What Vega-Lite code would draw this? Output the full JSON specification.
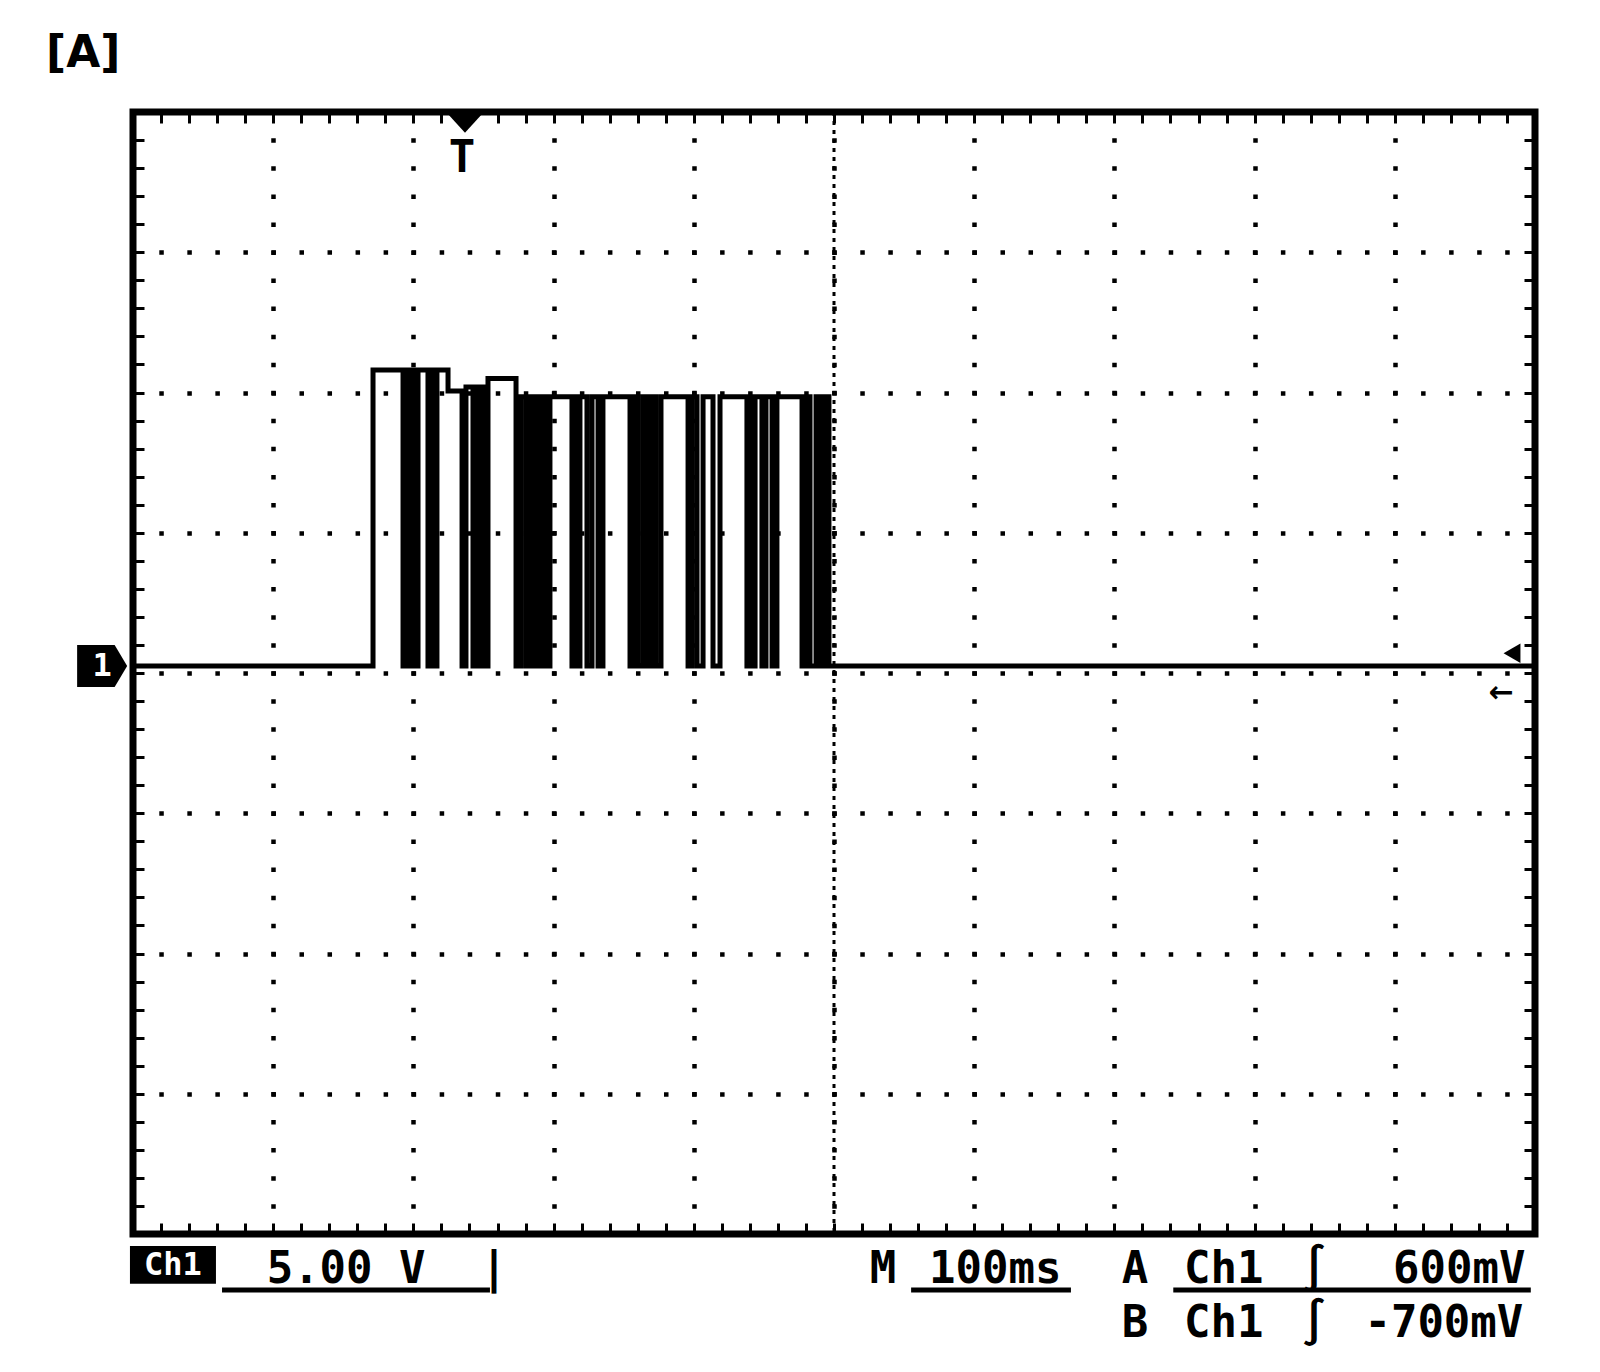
{
  "$schema": "https://vega.github.io/schema/vega-lite/v6.json",
  "width": 1402,
  "height": 1122,
  "autosize": {"type": "none"},
  "padding": {"left": 133, "top": 112, "right": 65, "bottom": 138},
  "background": "white",
  "config": {"view": {"stroke": "black", "strokeWidth": 7}},
  "datasets": {
    "signal": [
      {"t": 0, "v": 0.25}, {"t": 171.2, "v": 0.25}, {"t": 171.2, "v": 10.8}, {"t": 192.6, "v": 10.8},
      {"t": 192.6, "v": 0.25}, {"t": 194.7, "v": 0.25}, {"t": 194.7, "v": 10.8}, {"t": 197.6, "v": 10.8},
      {"t": 197.6, "v": 0.25}, {"t": 199.7, "v": 0.25}, {"t": 199.7, "v": 10.8}, {"t": 201.9, "v": 10.8},
      {"t": 201.9, "v": 0.25}, {"t": 203.3, "v": 0.25}, {"t": 203.3, "v": 10.8}, {"t": 210.4, "v": 10.8},
      {"t": 210.4, "v": 0.25}, {"t": 212.6, "v": 0.25}, {"t": 212.6, "v": 10.8}, {"t": 214.7, "v": 10.8},
      {"t": 214.7, "v": 0.25}, {"t": 216.8, "v": 0.25}, {"t": 216.8, "v": 10.8}, {"t": 224.7, "v": 10.8},
      {"t": 224.7, "v": 10.05}, {"t": 234.7, "v": 10.05}, {"t": 234.7, "v": 0.25}, {"t": 237.5, "v": 0.25},
      {"t": 237.5, "v": 10.2}, {"t": 242.5, "v": 10.2}, {"t": 242.5, "v": 0.25}, {"t": 245.4, "v": 0.25},
      {"t": 245.4, "v": 10.2}, {"t": 246.8, "v": 10.2}, {"t": 246.8, "v": 0.25}, {"t": 248.9, "v": 0.25},
      {"t": 248.9, "v": 10.2}, {"t": 251.1, "v": 10.2}, {"t": 251.1, "v": 0.25}, {"t": 253.2, "v": 0.25},
      {"t": 253.2, "v": 10.5}, {"t": 273.2, "v": 10.5}, {"t": 273.2, "v": 0.25}, {"t": 276.7, "v": 0.25},
      {"t": 276.7, "v": 9.85}, {"t": 280.3, "v": 9.85}, {"t": 280.3, "v": 0.25}, {"t": 283.2, "v": 0.25},
      {"t": 283.2, "v": 9.85}, {"t": 285.3, "v": 9.85}, {"t": 285.3, "v": 0.25}, {"t": 288.2, "v": 0.25},
      {"t": 288.2, "v": 9.85}, {"t": 291.7, "v": 9.85}, {"t": 291.7, "v": 0.25}, {"t": 293.9, "v": 0.25},
      {"t": 293.9, "v": 9.85}, {"t": 295.3, "v": 9.85}, {"t": 295.3, "v": 0.25}, {"t": 297.4, "v": 0.25},
      {"t": 297.4, "v": 9.85}, {"t": 313.1, "v": 9.85}, {"t": 313.1, "v": 0.25}, {"t": 316.0, "v": 0.25},
      {"t": 316.0, "v": 9.85}, {"t": 316.7, "v": 9.85}, {"t": 316.7, "v": 0.25}, {"t": 318.8, "v": 0.25},
      {"t": 318.8, "v": 9.85}, {"t": 323.8, "v": 9.85}, {"t": 323.8, "v": 0.25}, {"t": 327.4, "v": 0.25},
      {"t": 327.4, "v": 9.85}, {"t": 331.7, "v": 9.85}, {"t": 331.7, "v": 0.25}, {"t": 335.2, "v": 0.25},
      {"t": 335.2, "v": 9.85}, {"t": 354.5, "v": 9.85}, {"t": 354.5, "v": 0.25}, {"t": 357.3, "v": 0.25},
      {"t": 357.3, "v": 9.85}, {"t": 360.2, "v": 9.85}, {"t": 360.2, "v": 0.25}, {"t": 363.8, "v": 0.25},
      {"t": 363.8, "v": 9.85}, {"t": 367.3, "v": 9.85}, {"t": 367.3, "v": 0.25}, {"t": 370.2, "v": 0.25},
      {"t": 370.2, "v": 9.85}, {"t": 373.0, "v": 9.85}, {"t": 373.0, "v": 0.25}, {"t": 376.6, "v": 0.25},
      {"t": 376.6, "v": 9.85}, {"t": 395.9, "v": 9.85}, {"t": 395.9, "v": 0.25}, {"t": 398.7, "v": 0.25},
      {"t": 398.7, "v": 9.85}, {"t": 402.3, "v": 9.85}, {"t": 402.3, "v": 0.25}, {"t": 406.6, "v": 0.25},
      {"t": 406.6, "v": 9.85}, {"t": 413.7, "v": 9.85}, {"t": 413.7, "v": 0.25}, {"t": 418.7, "v": 0.25},
      {"t": 418.7, "v": 9.85}, {"t": 437.9, "v": 9.85}, {"t": 437.9, "v": 0.25}, {"t": 440.8, "v": 0.25},
      {"t": 440.8, "v": 9.85}, {"t": 441.5, "v": 9.85}, {"t": 441.5, "v": 0.25}, {"t": 443.7, "v": 0.25},
      {"t": 443.7, "v": 9.85}, {"t": 448.6, "v": 9.85}, {"t": 448.6, "v": 0.25}, {"t": 451.5, "v": 0.25},
      {"t": 451.5, "v": 9.85}, {"t": 455.8, "v": 9.85}, {"t": 455.8, "v": 0.25}, {"t": 459.3, "v": 0.25},
      {"t": 459.3, "v": 9.85}, {"t": 477.2, "v": 9.85}, {"t": 477.2, "v": 0.25}, {"t": 480.0, "v": 0.25},
      {"t": 480.0, "v": 9.85}, {"t": 482.9, "v": 9.85}, {"t": 482.9, "v": 0.25}, {"t": 487.2, "v": 0.25},
      {"t": 487.2, "v": 9.85}, {"t": 490.0, "v": 9.85}, {"t": 490.0, "v": 0.25}, {"t": 492.9, "v": 0.25},
      {"t": 492.9, "v": 9.85}, {"t": 496.4, "v": 9.85}, {"t": 496.4, "v": 0.25}, {"t": 1000, "v": 0.25}
    ],
    "center": [{"t": 500}],
    "underlines": [
      {"t": 63.5, "t2": 254.6, "v": -22.0},
      {"t": 555, "t2": 669, "v": -22.0},
      {"t": 742, "t2": 997, "v": -22.0}
    ],
    "labels": [
      {"t": -62, "v": 21.6, "text": "[A]", "role": "title"},
      {"t": 152, "v": -21.75, "text": "5.00 V", "role": "status"},
      {"t": 257.5, "v": -21.75, "text": "|", "role": "status"},
      {"t": 535, "v": -21.75, "text": "M", "role": "status"},
      {"t": 615, "v": -21.75, "text": "100ms", "role": "status"},
      {"t": 714.7, "v": -21.75, "text": "A", "role": "status"},
      {"t": 778, "v": -21.75, "text": "Ch1", "role": "status"},
      {"t": 842.4, "v": -21.75, "text": "∫", "role": "status"},
      {"t": 946, "v": -21.75, "text": "600mV", "role": "status"},
      {"t": 714.7, "v": -23.67, "text": "B", "role": "status"},
      {"t": 778, "v": -23.67, "text": "Ch1", "role": "status"},
      {"t": 842.4, "v": -23.67, "text": "∫", "role": "status"},
      {"t": 935, "v": -23.67, "text": "-700mV", "role": "status"},
      {"t": 234.7, "v": 17.86, "text": "T", "role": "status"},
      {"t": 28.5, "v": -21.1, "text": "Ch1", "role": "inverse"},
      {"t": -22, "v": 0.25, "text": "1", "role": "inverse"},
      {"t": 976, "v": -0.7, "text": "←", "role": "small"}
    ],
    "markers": [
      {"t": -22, "v": 0.25, "item": "ground"},
      {"t": 28.5, "v": -21.1, "item": "box"},
      {"t": 236.8, "v": 19.6, "item": "trigger"},
      {"t": 983.6, "v": 0.7, "item": "levelA"}
    ]
  },
  "resolve": {"axis": {"x": "independent", "y": "independent"}},
  "layer": [
    {
      "data": {"name": "signal"},
      "mark": {"type": "line", "color": "black", "strokeWidth": 5},
      "encoding": {
        "x": {"field": "t", "type": "quantitative", "scale": {"domain": [0, 1000], "nice": false, "zero": false},
          "axis": {"orient": "bottom", "values": [100, 200, 300, 400, 500, 600, 700, 800, 900], "grid": true, "gridColor": "black", "gridOpacity": 1, "gridWidth": 4.5, "gridDash": [4.5, 23.55], "gridDashOffset": 2.25, "ticks": false, "labels": false, "domain": false, "title": null}},
        "y": {"field": "v", "type": "quantitative", "scale": {"domain": [-20, 20], "nice": false, "zero": false},
          "axis": {"orient": "left", "values": [-15, -10, -5, 0, 5, 10, 15], "grid": true, "gridColor": "black", "gridOpacity": 1, "gridWidth": 4.5, "gridDash": [4.5, 23.54], "gridDashOffset": 2.25, "ticks": false, "labels": false, "domain": false, "title": null}},
        "order": {"value": null}
      }
    },
    {
      "data": {"name": "center"},
      "mark": {"type": "rule", "color": "black", "strokeWidth": 3, "strokeDash": [4, 5]},
      "encoding": {
        "x": {"field": "t", "type": "quantitative",
          "axis": {"orient": "top", "offset": -11, "tickSize": 11, "tickWidth": 3, "tickColor": "black", "values": [0,20,40,60,80,100,120,140,160,180,200,220,240,260,280,300,320,340,360,380,400,420,440,460,480,500,520,540,560,580,600,620,640,660,680,700,720,740,760,780,800,820,840,860,880,900,920,940,960,980,1000], "labels": false, "domain": false, "grid": false, "title": null}}
      }
    },
    {
      "data": {"name": "underlines"},
      "mark": {"type": "rule", "color": "black", "strokeWidth": 5, "clip": false},
      "encoding": {
        "x": {"field": "t", "type": "quantitative", "axis": null},
        "x2": {"field": "t2"},
        "y": {"field": "v", "type": "quantitative",
          "axis": {"orient": "right", "offset": -11, "tickSize": 11, "tickWidth": 3, "tickColor": "black", "values": [-20,-19,-18,-17,-16,-15,-14,-13,-12,-11,-10,-9,-8,-7,-6,-5,-4,-3,-2,-1,0,1,2,3,4,5,6,7,8,9,10,11,12,13,14,15,16,17,18,19,20], "labels": false, "domain": false, "grid": false, "title": null}}
      }
    },
    {
      "data": {"name": "markers"},
      "transform": [{"filter": "datum.item === 'ground'"}],
      "mark": {"type": "point", "filled": true, "color": "black", "opacity": 1, "size": 2500, "shape": "M-1,-0.84 L0.5,-0.84 L1,0 L0.5,0.84 L-1,0.84 Z", "clip": false},
      "encoding": {
        "x": {"field": "t", "type": "quantitative", "axis": null},
        "y": {"field": "v", "type": "quantitative", "axis": null}
      }
    },
    {
      "data": {"name": "markers"},
      "transform": [{"filter": "datum.item === 'box'"}],
      "mark": {"type": "point", "filled": true, "color": "black", "opacity": 1, "size": 7396, "shape": "M-1,-0.44 L1,-0.44 L1,0.44 L-1,0.44 Z", "clip": false},
      "encoding": {
        "x": {"field": "t", "type": "quantitative", "axis": null},
        "y": {"field": "v", "type": "quantitative", "axis": null}
      }
    },
    {
      "data": {"name": "markers"},
      "transform": [{"filter": "datum.item === 'trigger'"}],
      "mark": {"type": "point", "filled": true, "color": "black", "opacity": 1, "size": 1200, "shape": "M-1,-0.55 L1,-0.55 L0,0.55 Z", "clip": false},
      "encoding": {
        "x": {"field": "t", "type": "quantitative", "axis": null},
        "y": {"field": "v", "type": "quantitative", "axis": null}
      }
    },
    {
      "data": {"name": "markers"},
      "transform": [{"filter": "datum.item === 'levelA'"}],
      "mark": {"type": "point", "filled": true, "color": "black", "opacity": 1, "size": 380, "shape": "triangle-left", "clip": false},
      "encoding": {
        "x": {"field": "t", "type": "quantitative", "axis": null},
        "y": {"field": "v", "type": "quantitative", "axis": null}
      }
    },
    {
      "data": {"name": "labels"},
      "transform": [{"filter": "datum.role === 'status'"}],
      "mark": {"type": "text", "font": "DejaVu Sans Mono", "fontWeight": "bold", "fontSize": 44, "align": "center", "baseline": "alphabetic", "color": "black", "clip": false},
      "encoding": {
        "x": {"field": "t", "type": "quantitative",
          "axis": {"orient": "bottom", "offset": -11, "tickSize": 11, "tickWidth": 3, "tickColor": "black", "values": [0,20,40,60,80,100,120,140,160,180,200,220,240,260,280,300,320,340,360,380,400,420,440,460,480,500,520,540,560,580,600,620,640,660,680,700,720,740,760,780,800,820,840,860,880,900,920,940,960,980,1000], "labels": false, "domain": false, "grid": false, "title": null}},
        "y": {"field": "v", "type": "quantitative",
          "axis": {"orient": "left", "offset": -11, "tickSize": 11, "tickWidth": 3, "tickColor": "black", "values": [-20,-19,-18,-17,-16,-15,-14,-13,-12,-11,-10,-9,-8,-7,-6,-5,-4,-3,-2,-1,0,1,2,3,4,5,6,7,8,9,10,11,12,13,14,15,16,17,18,19,20], "labels": false, "domain": false, "grid": false, "title": null}},
        "text": {"field": "text"}
      }
    },
    {
      "data": {"name": "labels"},
      "transform": [{"filter": "datum.role === 'title'"}],
      "mark": {"type": "text", "font": "DejaVu Sans", "fontWeight": "bold", "fontSize": 44, "align": "left", "baseline": "alphabetic", "color": "black", "clip": false},
      "encoding": {
        "x": {"field": "t", "type": "quantitative", "axis": null},
        "y": {"field": "v", "type": "quantitative", "axis": null},
        "text": {"field": "text"}
      }
    },
    {
      "data": {"name": "labels"},
      "transform": [{"filter": "datum.role === 'inverse'"}],
      "mark": {"type": "text", "font": "DejaVu Sans Mono", "fontWeight": "bold", "fontSize": 32, "align": "center", "baseline": "middle", "color": "white", "clip": false},
      "encoding": {
        "x": {"field": "t", "type": "quantitative", "axis": null},
        "y": {"field": "v", "type": "quantitative", "axis": null},
        "text": {"field": "text"}
      }
    },
    {
      "data": {"name": "labels"},
      "transform": [{"filter": "datum.role === 'small'"}],
      "mark": {"type": "text", "font": "DejaVu Sans", "fontWeight": "bold", "fontSize": 30, "align": "center", "baseline": "middle", "color": "black", "clip": false},
      "encoding": {
        "x": {"field": "t", "type": "quantitative", "axis": null},
        "y": {"field": "v", "type": "quantitative", "axis": null},
        "text": {"field": "text"}
      }
    }
  ]
}
